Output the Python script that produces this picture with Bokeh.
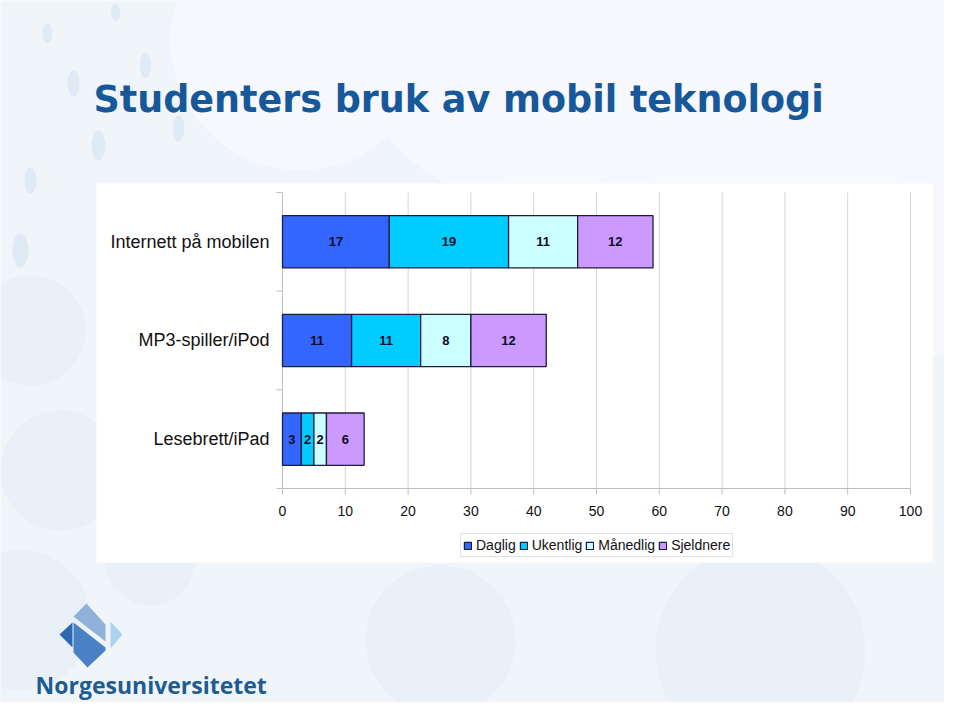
import numpy as np
from bokeh.plotting import figure
from bokeh.models import Range1d, Legend, LegendItem, ColumnDataSource
from bokeh.core.properties import value
from bokeh.embed import file_html
from bokeh.resources import INLINE

# ---------------- data ----------------
title_text = "Studenters bruk av mobil teknologi"
categories = ["Lesebrett/iPad", "MP3-spiller/iPod", "Internett på mobilen"]
series_names = ["Daglig", "Ukentlig", "Månedlig", "Sjeldnere"]
daglig = [3, 11, 17]
ukentlig = [2, 11, 19]
maanedlig = [2, 8, 11]
sjeldnere = [6, 12, 12]
x_ticks = [0, 10, 20, 30, 40, 50, 60, 70, 80, 90, 100]
x_tick_labels = ["0", "10", "20", "30", "40", "50", "60", "70", "80", "90", "100"]
logo_text = "Norgesuniversitetet"

colors = ["#3366FF", "#00CCFF", "#CCFFFF", "#CC99FF"]

# ---------------- geometry helpers (decoration only) ----------------
PX_PER_X = 6.28      # pixels per value unit
PX_PER_ROW = 98.7    # pixels per category row
X0_PAGE = 282.0      # x of value 0
Y0_PAGE = 488.0      # y of category axis baseline


def X(px):
    return (px - X0_PAGE) / PX_PER_X


def Y(py):
    return (Y0_PAGE - py) / PX_PER_ROW


W, H = 944, 702
p = figure(width=W, height=H,
           x_range=Range1d(X(0), X(W)), y_range=Range1d(Y(H), Y(0)),
           x_axis_location=None, y_axis_location=None,
           min_border=0, toolbar_location=None, output_backend="svg",
           background_fill_color="#F0F5FA", border_fill_color="#F0F5FA",
           outline_line_color=None)
p.grid.visible = False

# soft background washes
p.scatter([X(v) for v in [700, 860, 520, 300]], [Y(v) for v in [60, 160, 30, 40]],
          size=[460, 420, 340, 260], marker="circle",
          fill_color="#F8FAFD", fill_alpha=0.7, line_color=None)
# large faint bubbles
big_x = [440, 760, 30, 60, 20, 150]
big_y = [640, 650, 330, 470, 620, 560]
big_s = [150, 210, 110, 120, 140, 90]
p.scatter([X(v) for v in big_x], [Y(v) for v in big_y], size=big_s, marker="circle",
          fill_color="#E2EBF6", fill_alpha=0.5, line_color=None)
# small bubbles top-left
sm_x = [47, 115, 145, 73, 178, 98, 30, 20]
sm_y = [33, 12, 65, 83, 128, 145, 180, 250]
sm_w = [10, 9, 11, 12, 12, 14, 12, 16]
sm_h = [20, 18, 26, 26, 26, 30, 26, 34]
p.ellipse(x=[X(v) for v in sm_x], y=[Y(v) for v in sm_y],
          width=[w / PX_PER_X for w in sm_w], height=[h / PX_PER_ROW for h in sm_h],
          fill_color="#D3E2F2", fill_alpha=0.6, line_color=None)

# white chart panel
p.quad(left=[X(96)], right=[X(932)], top=[Y(183)], bottom=[Y(562)],
       fill_color="white", line_color=None)

# gridlines
grid_x = x_ticks[1:]
p.segment(x0=grid_x, y0=[0] * len(grid_x), x1=grid_x, y1=[len(categories)] * len(grid_x),
          line_color="#D4D4D4", line_width=1)
# axes lines
p.segment(x0=[x_ticks[0]], y0=[0], x1=[x_ticks[-1]], y1=[0], line_color="#BDBDBD", line_width=1)
p.segment(x0=[0], y0=[0], x1=[0], y1=[len(categories)], line_color="#BDBDBD", line_width=1)
# tick marks
p.segment(x0=x_ticks, y0=[0] * len(x_ticks), x1=x_ticks, y1=[Y(494)] * len(x_ticks),
          line_color="#BDBDBD", line_width=1)
cat_ticks = list(range(len(categories) + 1))
p.segment(x0=[0] * len(cat_ticks), y0=cat_ticks, x1=[X(276)] * len(cat_ticks), y1=cat_ticks,
          line_color="#BDBDBD", line_width=1)

# bars
ypos = np.arange(len(categories)) + 0.5
keys = ["d", "u", "m", "s"]
vals = [daglig, ukentlig, maanedlig, sjeldnere]
src = ColumnDataSource(dict(y=ypos, d=daglig, u=ukentlig, m=maanedlig, s=sjeldnere))
rends = p.hbar_stack(keys, y="y", height=0.53, color=colors, source=src,
                     line_color="#1E1E3C", line_width=1.3)

# value labels
lx, ly, lt = [], [], []
cum = np.zeros(len(categories))
for v in vals:
    v = np.array(v, dtype=float)
    lx.extend(list(cum + v / 2))
    ly.extend(list(ypos))
    lt.extend([str(int(a)) for a in v])
    cum = cum + v
p.text(x=lx, y=ly, text=lt, text_align="center", text_baseline="middle",
       text_font=value("Liberation Sans"), text_font_style="bold",
       text_font_size="13px", text_color="#0D0D26")

# category labels
p.text(x=[X(269)] * len(categories), y=list(ypos), text=categories,
       text_align="right", text_baseline="middle",
       text_font=value("Liberation Sans"), text_font_size="18px", text_color="#111111")

# x tick labels
p.text(x=x_ticks, y=[Y(510)] * len(x_ticks), text=x_tick_labels,
       text_align="center", text_baseline="middle",
       text_font=value("Liberation Sans"), text_font_size="14px", text_color="#111111")

# legend
items = [LegendItem(label=n, renderers=[r]) for n, r in zip(series_names, rends)]
legend = Legend(items=items, orientation="horizontal", location=(460, H - 557),
                glyph_width=9, glyph_height=9, label_standoff=4, spacing=3, padding=2,
                margin=0, label_height=18, label_text_font="Liberation Sans",
                label_text_font_size="14px", label_text_color="#111111",
                border_line_color="#C4C4C4", background_fill_color="white",
                background_fill_alpha=1.0)
p.add_layout(legend, "center")

# title
p.text(x=[X(93)], y=[Y(99)], text=[title_text], text_align="left", text_baseline="middle",
       text_font=value("DejaVu Sans"), text_font_style="bold", text_font_size="36.5px",
       text_color="#17589A")

# logo shapes
def pts(lst):
    return [X(a) for a, b in lst], [Y(b) for a, b in lst]

lx1, ly1 = pts([(59, 634), (72, 622), (72, 647)])
p.patch(lx1, ly1, fill_color="#2B6AB2", line_color=None)
ux, uy = pts([(73, 616), (86, 603), (105, 624), (105, 641)])
p.patch(ux, uy, fill_color="#8FB1DA", line_color=None)
dx, dy = pts([(73, 622), (105, 647), (105, 650), (87, 667), (73, 652)])
p.patch(dx, dy, fill_color="#4A80C4", line_color=None)
rx, ry = pts([(110, 621), (122, 634), (110, 648)])
p.patch(rx, ry, fill_color="#A9D3F1", line_color=None)

p.text(x=[X(35)], y=[Y(684)], text=[logo_text], text_align="left", text_baseline="middle",
       text_font=value("Open Sans"), text_font_style="bold", text_font_size="23px",
       text_color="#1D5C92")

open("out.html", "w").write(file_html(p, INLINE))
